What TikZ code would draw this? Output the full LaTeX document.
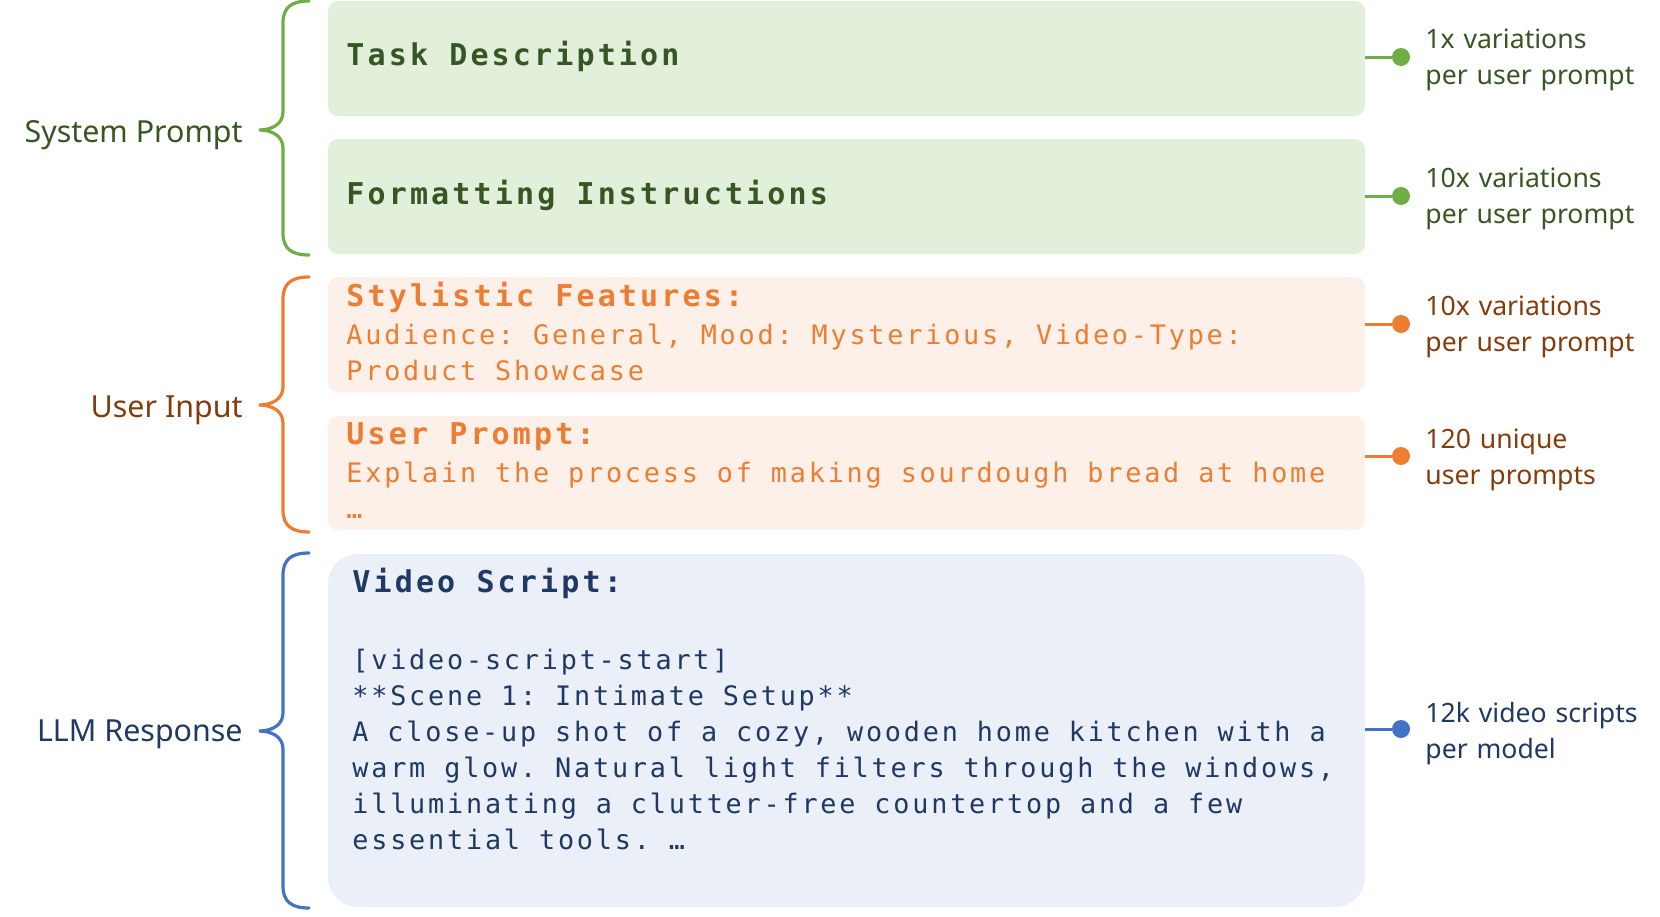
\documentclass[tikz,border=0pt]{standalone}
\usepackage{fontspec}
\setmainfont{Noto Sans}
\newfontfamily\monof[LetterSpace=10.5]{DejaVu Sans Mono}
\newcommand\bodysp{\spaceskip=0.707em\relax\xspaceskip=0.707em\relax}
\usetikzlibrary{fit}
\definecolor{gfill}{HTML}{E2EFDA}
\definecolor{gline}{HTML}{70AD47}
\definecolor{gtext}{HTML}{375623}
\definecolor{ofill}{HTML}{FCF0E8}
\definecolor{oline}{HTML}{ED7D31}
\definecolor{otext}{HTML}{843C0C}
\definecolor{bfill}{HTML}{EAEFF8}
\definecolor{bline}{HTML}{4472C4}
\definecolor{btext}{HTML}{1F3864}
\newcommand\drawbrace[4]{%
  \draw[#1,line width=1.6pt,line cap=round]
    (309,#2) .. controls (292,#2) and (283,#2+6) .. (283,#2+22)
    -- (283,#3-18) .. controls (283,#3-6) and (272,#3) .. (259,#3)
    .. controls (272,#3) and (283,#3+6) .. (283,#3+18)
    -- (283,#4-22) .. controls (283,#4-6) and (292,#4) .. (309,#4);}
\begin{document}
\begin{tikzpicture}[x=0.5pt,y=-0.5pt,
  box/.style={inner sep=0pt,rounded corners=5pt,draw=none},
  head/.style={inner sep=0pt,anchor=base west,font=\monof\bfseries\fontsize{15}{18}\selectfont\frenchspacing},
  body/.style={inner sep=0pt,anchor=base west,text width=600pt,align=left,font=\monof\fontsize{13.4}{18}\selectfont\frenchspacing},
  llab/.style={inner sep=0pt,anchor=base east,font=\fontsize{15.2}{18}\selectfont},
  rlab/.style={inner sep=0pt,anchor=base west,text width=130pt,align=left,font=\fontsize{13.3}{18.3}\selectfont},
  dot/.style={circle,inner sep=0pt,minimum size=9pt},
  conn/.style={line width=1.5pt}
]
\useasboundingbox (0,0) rectangle (1660,916);
% boxes
\node[box,fill=gfill,fit={(328,1) (1365,116)}] (b1) {};
\node[box,fill=gfill,fit={(328,139) (1365,254)}] (b2) {};
\node[box,fill=ofill,fit={(328,277) (1365,392)}] (b3) {};
\node[box,fill=ofill,fit={(328,416) (1365,530)}] (b4) {};
\node[box,fill=bfill,rounded corners=15pt,fit={(328,554) (1365,907)}] (b5) {};
% box texts
\node[head,text=gtext] (t1) at (346,65) {Task Description};
\node[head,text=gtext] (t2) at (346,204) {Formatting Instructions};
\node[head,text=oline] (t3) at (346,306) {Stylistic Features:};
\node[body,text=oline] (t3b) at (346,344) {\bodysp Audience: General, Mood: Mysterious, Video-Type:\\Product Showcase};
\node[head,text=oline] (t4) at (346,444) {User Prompt:};
\node[body,text=oline] (t4b) at (346,482) {\bodysp Explain the process of making sourdough bread at home\\{…}};
\node[head,text=btext] (t5) at (352,592) {Video Script:};
\node[body,text=btext] (t5b) at (352,669) {\bodysp{[}video-script-start{]}\\{**}Scene 1: Intimate Setup{**}\\A close-up shot of a cozy, wooden home kitchen with a\\warm glow. Natural light filters through the windows,\\illuminating a clutter-free countertop and a few\\essential tools. …};
% braces
\drawbrace{gline}{1}{130}{255}
\drawbrace{oline}{277}{405}{532}
\drawbrace{bline}{553}{731}{908}
% left labels
\node[llab,text=gtext] (l1) at (243,142) {System Prompt};
\node[llab,text=otext] (l2) at (243,417) {User Input};
\node[llab,text=btext] (l3) at (243,741) {LLM Response};
% dots and connectors
\node[dot,fill=gline] (d1) at (1401,57) {};
\node[dot,fill=gline] (d2) at (1401,196) {};
\node[dot,fill=oline] (d3) at (1401,324) {};
\node[dot,fill=oline] (d4) at (1401,456) {};
\node[dot,fill=bline] (d5) at (1401,729) {};
\draw[conn,gline] (b1.east |- d1) -- (d1);
\draw[conn,gline] (b2.east |- d2) -- (d2);
\draw[conn,oline] (b3.east |- d3) -- (d3);
\draw[conn,oline] (b4.east |- d4) -- (d4);
\draw[conn,bline] (b5.east |- d5) -- (d5);
% right labels
\node[rlab,text=gtext] (r1) at (1425,48) {1x variations\\per user prompt};
\node[rlab,text=gtext] (r2) at (1425,187) {10x variations\\per user prompt};
\node[rlab,text=otext] (r3) at (1425,315) {10x variations\\per user prompt};
\node[rlab,text=otext] (r4) at (1425,448) {120 unique\\user prompts};
\node[rlab,text=btext] (r5) at (1425,722) {12k video scripts\\per model};
\end{tikzpicture}
\end{document}
